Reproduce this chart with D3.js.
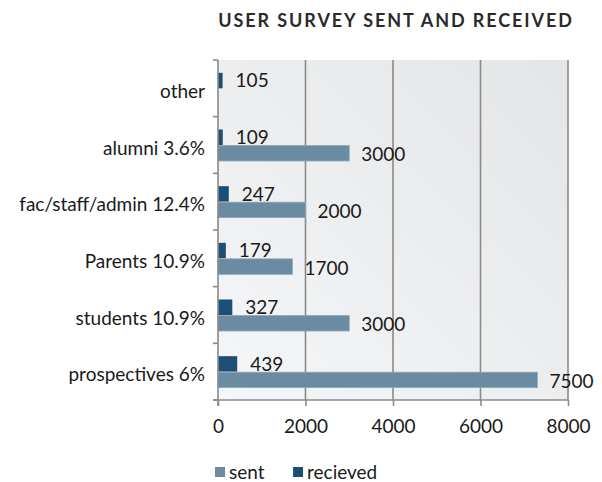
<html>
<head>
<style>
  body { margin: 0; background: #fff; }
  text { font-family: Lato, "Open Sans", sans-serif; fill: #1a1a1a; }
</style>
</head>
<body>
<svg id="svg" width="602" height="482"></svg>
<script src="https://d3js.org/d3.v7.min.js"></script>
<script>

var categories = ["other", "alumni 3.6%", "fac/staff/admin 12.4%", "Parents 10.9%", "students 10.9%", "prospectives 6%"];
var sent = [0, 3000, 2000, 1700, 3000, 7300];
var sentLabels = ["", "3000", "2000", "1700", "3000", "7500"];
var recieved = [105, 109, 247, 179, 327, 439];
var xTicks = [0, 2000, 4000, 6000, 8000];
var series = ["sent", "recieved"];
var colors = { sent: "#6b8ba2", recieved: "#1d4e74" };

var svg = d3.select("#svg");
var pl = 218, pr = 568, pt = 60, pb = 400;

var defs = svg.append("defs");
var grad = defs.append("linearGradient").attr("id", "bg")
  .attr("x1", "0").attr("y1", "1").attr("x2", "1").attr("y2", "0");
grad.append("stop").attr("offset", "0").attr("stop-color", "#f5f6f7");
grad.append("stop").attr("offset", "1").attr("stop-color", "#e4e5e7");

var x = d3.scaleLinear().domain([0, 8000]).range([pl, pr]);
var y = d3.scaleBand().domain(categories).range([pt, pb]);
var barH = 15.5;

svg.append("rect")
  .attr("x", pl).attr("y", pt)
  .attr("width", pr - pl).attr("height", pb - pt)
  .style("fill", "url(#bg)");

// grid lines
svg.selectAll("line.grid").data(xTicks.slice(1))
  .join("line").classed("grid", true)
  .attr("x1", d => x(d)).attr("x2", d => x(d))
  .attr("y1", pt).attr("y2", pb)
  .style("stroke", "#8a8a8a").style("stroke-width", 1.6);

var rows = categories.map((c, i) => ({ c: c, s: sent[i], sl: sentLabels[i], r: recieved[i] }));

var g = svg.selectAll("g.row").data(rows)
  .join("g").classed("row", true)
  .attr("transform", d => "translate(0," + (y(d.c) + y.bandwidth() / 2) + ")");

g.append("rect")
  .attr("x", x(0)).attr("y", -barH)
  .attr("width", d => x(d.r) - x(0)).attr("height", barH)
  .style("fill", colors.recieved);

g.filter(d => d.s > 0).append("rect")
  .attr("x", x(0)).attr("y", 0.5)
  .attr("width", d => x(d.s) - x(0)).attr("height", barH)
  .style("fill", colors.sent)
  .style("stroke", "#8fa9bb").style("stroke-width", 0.8);

g.append("text")
  .attr("x", d => x(d.r) + 13).attr("y", -barH / 2)
  .attr("dy", "0.35em")
  .style("font-size", "19px")
  .text(d => d.r);

g.filter(d => d.s > 0).append("text")
  .attr("x", d => x(d.s) + 12).attr("y", barH / 2 + 2)
  .attr("dy", "0.35em")
  .style("font-size", "19px")
  .text(d => d.sl);

// axes
var xAxis = svg.append("g")
  .attr("transform", "translate(0," + pb + ")")
  .call(d3.axisBottom(x).tickValues(xTicks).tickSize(6).tickPadding(14).tickFormat(d3.format("d")));
xAxis.select(".domain").style("stroke", "#8a8a8a").style("stroke-width", 1.6)
  .attr("d", "M" + (pl - 5) + ",0H" + pr);
xAxis.selectAll(".tick line").style("stroke", "#8a8a8a").style("stroke-width", 1.6);
xAxis.selectAll(".tick text").style("font-size", "19px").style("font-family", "Lato").style("fill", "#1a1a1a");

var yAxis = svg.append("g")
  .attr("transform", "translate(" + pl + ",0)")
  .call(d3.axisLeft(y).tickSize(0).tickPadding(13));
yAxis.select(".domain").style("stroke", "#8a8a8a").style("stroke-width", 1.6)
  .attr("d", "M0," + pt + "V" + (pb + 6));
yAxis.selectAll(".tick text").attr("dy", "0.5em")
  .style("font-size", "19px").style("font-family", "Lato").style("fill", "#1a1a1a");

svg.selectAll("line.ytick").data(categories.map(c => y(c)).concat([pb]))
  .join("line").classed("ytick", true)
  .attr("x1", pl - 5).attr("x2", pl)
  .attr("y1", d => d).attr("y2", d => d)
  .style("stroke", "#8a8a8a").style("stroke-width", 1.6);

// title
svg.append("text")
  .attr("x", 396).attr("y", 27)
  .attr("text-anchor", "middle")
  .style("font-size", "18px").style("font-weight", "bold")
  .style("letter-spacing", "1.9px").style("fill", "#2a2a2a")
  .text("USER SURVEY SENT AND RECEIVED");

// legend
var lg = svg.selectAll("g.leg").data(series)
  .join("g").classed("leg", true)
  .attr("transform", (d, i) => "translate(" + (215 + i * 78) + ",472)");
lg.append("rect").attr("x", 0).attr("y", -5).attr("width", 10).attr("height", 10)
  .style("fill", d => colors[d]);
lg.append("text").attr("x", 14).attr("dy", "0.35em")
  .style("font-size", "19px").text(d => d);

</script>
</body>
</html>
